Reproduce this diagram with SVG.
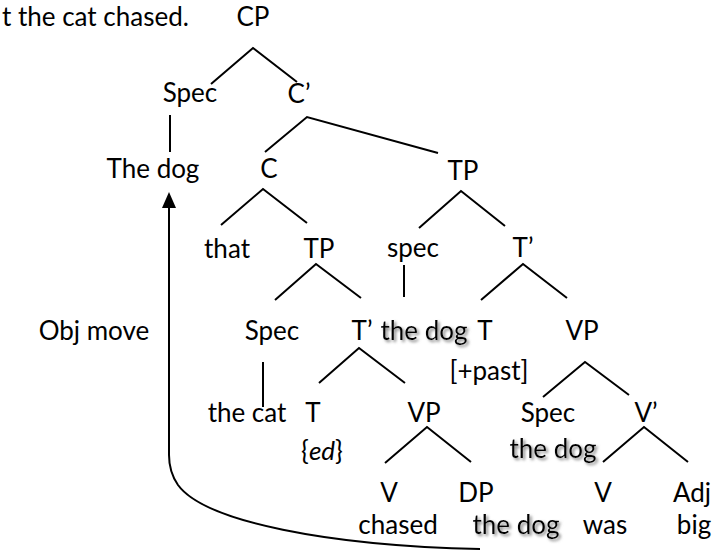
<svg xmlns="http://www.w3.org/2000/svg" width="726" height="552" viewBox="0 0 726 552">
<defs>
<style>
text{font-family:Lato,"Open Sans","Liberation Sans",sans-serif;font-size:26px;fill:#000;text-anchor:middle}
.l{text-anchor:start}
.e line,.e polyline,.e path{stroke:#000;stroke-width:2;fill:none}
.sh{filter:url(#shadow)}
</style>
<filter id="shadow" x="-20%" y="-40%" width="140%" height="180%">
<feGaussianBlur in="SourceAlpha" stdDeviation="1.5" result="b"/>
<feOffset in="b" dx="2" dy="2" result="o"/>
<feFlood flood-color="#808080" result="f"/>
<feComposite in="f" in2="o" operator="in" result="s"/>
<feMerge><feMergeNode in="s"/><feMergeNode in="SourceGraphic"/></feMerge>
</filter>
<marker id="ah" markerWidth="16" markerHeight="14" refX="0" refY="7" orient="auto" markerUnits="userSpaceOnUse" viewBox="0 0 16 14"><path d="M0,0 L16,7 L0,14 Z" fill="#000" stroke="none"/></marker>
</defs>
<g id="title"><text class="l" x="2" y="26">t the cat chased.</text></g>
<g id="CP"><text x="253" y="26">CP</text></g>
<g id="Spec1"><text x="190" y="102">Spec</text></g>
<g id="C1bar"><text x="299" y="103">C’</text></g>
<g id="TheDog"><text x="153" y="178">The dog</text></g>
<g id="C"><text x="269" y="178">C</text></g>
<g id="TP1"><text x="463" y="180">TP</text></g>
<g id="that"><text x="227" y="258">that</text></g>
<g id="TP2"><text x="319" y="258">TP</text></g>
<g id="spec2"><text x="413" y="257">spec</text></g>
<g id="T1bar"><text x="523" y="257">T’</text></g>
<g id="Spec3"><text x="272" y="340">Spec</text></g>
<g id="T2bar"><text x="362" y="340">T’</text></g>
<g id="theDog1"><text class="sh" x="424" y="340">the dog</text></g>
<g id="T1"><text x="485" y="340">T</text></g>
<g id="VP1"><text x="582" y="340">VP</text></g>
<g id="objMove"><text x="94" y="340">Obj move</text></g>
<g id="past"><text x="489" y="380">[+past]</text></g>
<g id="theCat"><text x="247" y="422">the cat</text></g>
<g id="T2"><text x="313" y="422">T</text></g>
<g id="VP2"><text x="424" y="422">VP</text></g>
<g id="Spec4"><text x="548" y="422">Spec</text></g>
<g id="Vbar"><text x="646" y="422">V’</text></g>
<g id="ed"><text x="322" y="460">{<tspan font-style="italic">ed</tspan>}</text></g>
<g id="theDog2"><text class="sh" x="553" y="458">the dog</text></g>
<g id="V1"><text x="389" y="502">V</text></g>
<g id="DP"><text x="476" y="502">DP</text></g>
<g id="V2"><text x="603" y="502">V</text></g>
<g id="Adj"><text x="692" y="502">Adj</text></g>
<g id="chased"><text x="398" y="534">chased</text></g>
<g id="theDog3"><text class="sh" x="516" y="534">the dog</text></g>
<g id="was"><text x="605" y="534">was</text></g>
<g id="big"><text x="694" y="534">big</text></g>
<g id="connectors" class="e">
<polyline points="211,84 253,48 297,82"/>
<line x1="170" y1="115" x2="170" y2="152"/>
<polyline points="265,152 307,117 438,153"/>
<polyline points="221,225 263,189 307,223"/>
<polyline points="419,228 461,191 505,226"/>
<polyline points="275,300 316,264 361,298"/>
<line x1="404" y1="265" x2="404" y2="297"/>
<polyline points="481,300 523,264 567,298"/>
<line x1="263" y1="362" x2="263" y2="407"/>
<polyline points="319,383 359,348 405,383"/>
<polyline points="543,397 585,362 629,395"/>
<polyline points="385,463 427,427 471,462"/>
<polyline points="603,462 644,427 688,462"/>
<path d="M480,549 C330,546 205,522 178,485 Q169,472 169,455 L169,208" marker-end="url(#ah)"/>
</g>
</svg>
